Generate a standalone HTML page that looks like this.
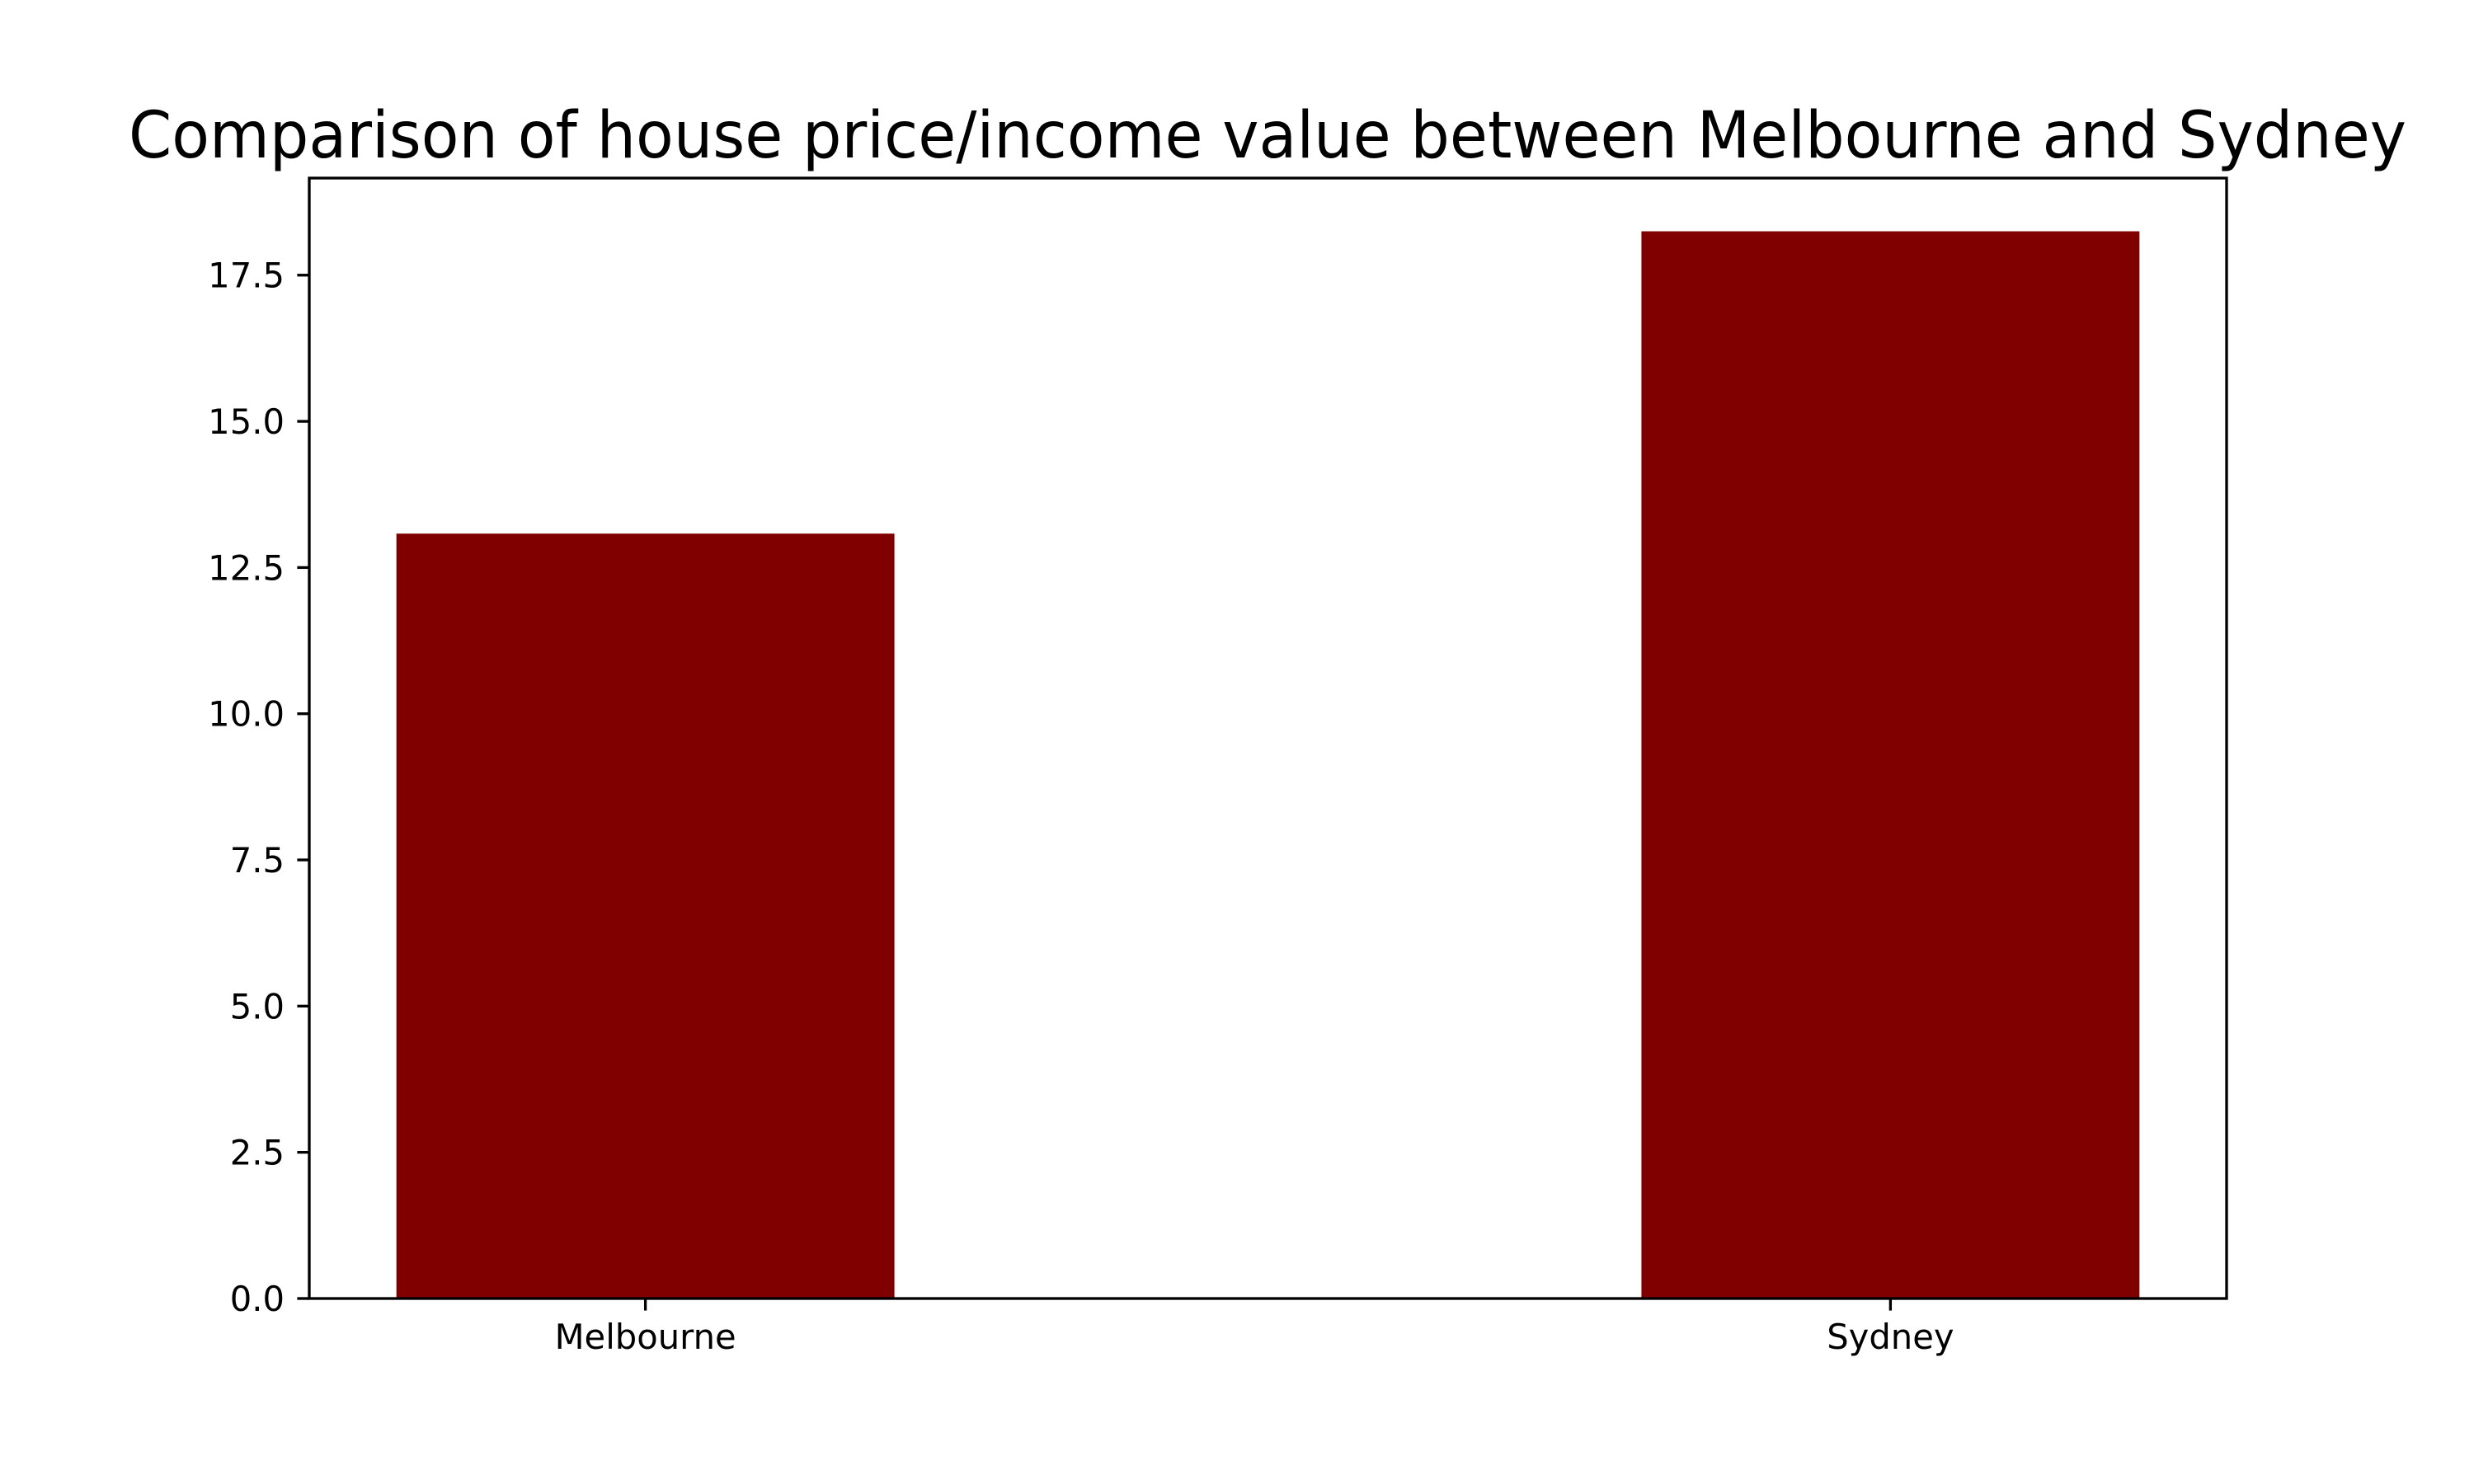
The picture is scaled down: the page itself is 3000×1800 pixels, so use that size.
<!DOCTYPE html>
<html><head><meta charset="utf-8"><style>
html,body{margin:0;padding:0;background:#fff;}
svg{display:block;font-family:"DejaVu Sans","Liberation Sans",sans-serif;}
</style></head><body>
<svg id="chart" width="3000" height="1800" viewBox="0 0 3000 1800" xmlns="http://www.w3.org/2000/svg">
<rect x="0" y="0" width="3000" height="1800" fill="#fff"/>
<text x="1537" y="191" font-size="78" text-anchor="middle" textLength="2762" lengthAdjust="spacingAndGlyphs" fill="#000">Comparison of house price/income value between Melbourne and Sydney</text>
<g id="bars"></g>
<g id="axes"></g>
</svg>
<script>
const categories = ["Melbourne", "Sydney"];
const values = [13.08, 18.25];
const yTicks = [0, 2.5, 5, 7.5, 10, 12.5, 15, 17.5];
const yTickLabels = ["0.0", "2.5", "5.0", "7.5", "10.0", "12.5", "15.0", "17.5"];

const L = 375, R = 2700, T = 216, B = 1575;
const xMin = -0.27, xMax = 1.27, yMin = 0, yMax = 19.16;
const barW = 0.4;
const NS = "http://www.w3.org/2000/svg";
function xs(v){ return L + (v - xMin) / (xMax - xMin) * (R - L); }
function ys(v){ return B - (v - yMin) / (yMax - yMin) * (B - T); }
function mk(tag, attrs, parent){
  const e = document.createElementNS(NS, tag);
  for (const k in attrs) e.setAttribute(k, attrs[k]);
  parent.appendChild(e);
  return e;
}
const barsG = document.getElementById('bars');
const axesG = document.getElementById('axes');

categories.forEach((c, i) => {
  const x0 = xs(i - barW / 2), x1 = xs(i + barW / 2);
  const r = mk('rect', {x: x0, y: ys(values[i]), width: x1 - x0, height: ys(0) - ys(values[i]), fill: '#800000'}, barsG);
  
  
  const t = mk('line', {x1: xs(i), x2: xs(i), y1: B, y2: B + 14.6, stroke: '#000', 'stroke-width': 3.33}, axesG);
  
  
  const lb = mk('text', {x: xs(i), y: 1636, 'font-size': 41.7, 'text-anchor': 'middle', fill: '#000'}, axesG);
  lb.textContent = c;
  
  
});

yTicks.forEach((v, i) => {
  const y = ys(v);
  const t = mk('line', {x1: L - 14.6, x2: L, y1: y, y2: y, stroke: '#000', 'stroke-width': 3.33}, axesG);
  
  
  const lb = mk('text', {x: 345, y: y + 15, 'font-size': 41.7, 'text-anchor': 'end', fill: '#000'}, axesG);
  lb.textContent = yTickLabels[i];
  
  
});

const frame = mk('rect', {x: L, y: T, width: R - L, height: B - T, fill: 'none', stroke: '#000', 'stroke-width': 3.33}, axesG);


</script>
</body></html>
